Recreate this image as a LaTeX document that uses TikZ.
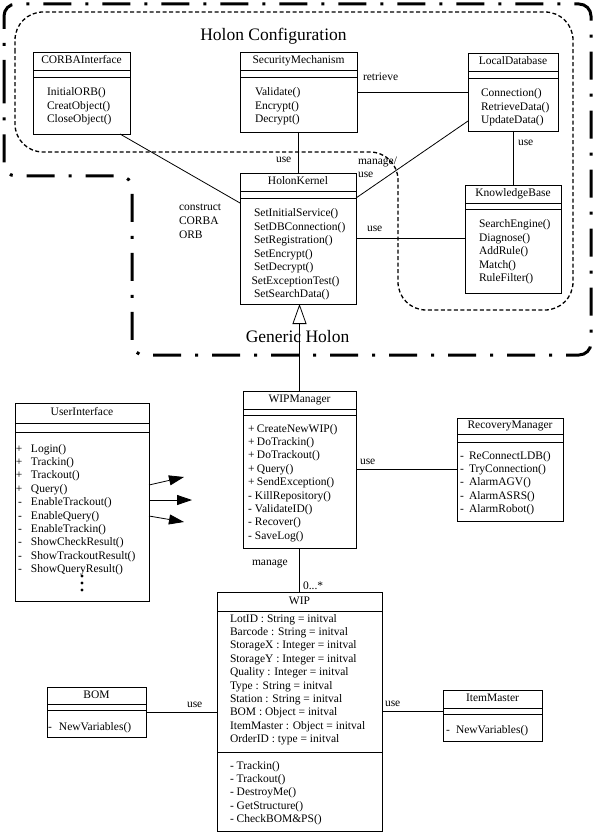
\documentclass[tikz,border=0pt]{standalone}
\usepackage{fontspec}
\setmainfont{Liberation Serif}
\usetikzlibrary{arrows.meta,calc}
\tikzset{
  txt/.style={font=\fontsize{11.5pt}{13.4pt}\selectfont, inner sep=0pt, outer sep=0pt},
  lbl/.style={txt, anchor=base west},
  cname/.style={txt, text height=8pt, text depth=2.4pt, anchor=center},
  cls/.style={draw, line width=0.8pt, inner sep=0pt, outer sep=0pt, anchor=north west},
  con/.style={line width=0.8pt},
  outerb/.style={line width=3pt, dash pattern=on 28pt off 14pt on 3pt off 14pt, rounded corners=12pt},
  innerb/.style={line width=1.3pt, dash pattern=on 4pt off 2.5pt, rounded corners=28pt},
  gen/.style={con, -{Triangle[open, length=20pt, width=14pt, line width=0.8pt]}},
  navarrow/.style={con, -{Triangle[length=15pt, width=10pt]}},
  bigtitle/.style={font=\fontsize{17.5pt}{20pt}\selectfont, inner sep=0pt, anchor=base},
}
\newcommand\umlclass[8]{%
  \node[cls, minimum width={(#4-#2)*1pt}, minimum height={(#5-#3)*1pt}] (#1) at (#2,#3) {};
  \draw[con] (#2,#6) -- (#4,#6);
  \draw[con] (#2,#7) -- (#4,#7);
  \node[cname] (#1-name) at ({(#2+#4)/2},{(#3+#6)/2}) {#8};
}
\newcommand\oplist[4]{%
  \foreach \optext [count=\i] in {#4} {\node[lbl] (#1-\i) at (#2,{#3+(\i-1)*13.4}) {\optext};}%
}
\newcommand\pf[2]{\makebox[#1][l]{#2}}
\begin{document}
\begin{tikzpicture}[x=1pt,y=-1pt]
\useasboundingbox (0,0) rectangle (594,834);

% group boundaries
\draw[outerb] (4,100) -- (4,4) -- (591,4) -- (591,355) -- (132,355) -- (132,176) -- (4,176) -- cycle;
\draw[innerb] (15,80) -- (15,12) -- (573,12) -- (573,310) -- (398,310) -- (398,152) -- (15,152) -- cycle;
\node[bigtitle] (t1) at (273.5,41) {Holon Configuration};
\node[bigtitle] (t2) at (297.5,342) {Generic Holon};

% classes
\umlclass{corba}{33}{52}{130}{134}{70}{77}{CORBAInterface}
\oplist{corbaop}{47}{96}{InitialORB(), CreatObject(), CloseObject()}

\umlclass{sec}{240}{52}{357}{132}{70}{77}{SecurityMechanism}
\oplist{secop}{255}{96}{Validate(), Encrypt(), Decrypt()}

\umlclass{ldb}{468}{53}{558}{131}{71}{78}{LocalDatabase}
\oplist{ldbop}{481}{97}{Connection(), RetrieveData(), UpdateData()}

\umlclass{kb}{465}{185}{561}{293}{203}{209}{KnowledgeBase}
\oplist{kbop}{479}{228}{SearchEngine(), Diagnose(), AddRule(), Match(), RuleFilter()}

\umlclass{hk}{240}{173}{356}{304}{191}{198}{HolonKernel}
\oplist{hkop}{254}{217}{SetInitialService(), SetDBConnection(), SetRegistration(), SetEncrypt(), SetDecrypt(), \hspace*{-2.5pt}SetExceptionTest(), SetSearchData()}

\umlclass{wipm}{243}{391}{356}{548}{409}{415}{WIPManager}
\oplist{wipmop}{248}{432}{\pf{9pt}{+}CreateNewWIP(), \pf{9pt}{+}DoTrackin(), \pf{9pt}{+}DoTrackout(), \pf{9pt}{+}Query(), \pf{9pt}{+}SendException(), \pf{7pt}{-}KillRepository(), \pf{7pt}{-}ValidateID(), \pf{7pt}{-}Recover(), \pf{7pt}{-}SaveLog()}

\umlclass{rec}{457}{418}{563}{521}{434}{442}{RecoveryManager}
\oplist{recop}{460}{459}{\pf{9pt}{-}ReConnectLDB(), \pf{9pt}{-}TryConnection(), \pf{9pt}{-}AlarmAGV(), \pf{9pt}{-}AlarmASRS(), \pf{9pt}{-}AlarmRobot()}

\umlclass{ui}{15}{403}{149}{601}{423}{432}{UserInterface}
\oplist{uiop}{16}{452}{\pf{15pt}{+}Login(), \pf{15pt}{+}Trackin(), \pf{15pt}{+}Trackout(), \pf{15pt}{+}Query(), \pf{15pt}{\hspace*{2pt}-}EnableTrackout(), \pf{15pt}{\hspace*{2pt}-}EnableQuery(), \pf{15pt}{\hspace*{2pt}-}EnableTrackin(), \pf{15pt}{\hspace*{2pt}-}ShowCheckResult(), \pf{15pt}{\hspace*{2pt}-}ShowTrackoutResult(), \pf{15pt}{\hspace*{2pt}-}ShowQueryResult()}
\fill (82,576) circle (1.7pt);
\fill (82,583) circle (1.7pt);
\fill (82,590) circle (1.7pt);

\umlclass{wip}{217}{592}{382}{831}{611}{752}{WIP}
\oplist{wipattr}{230}{622}{LotID : String = initval, Barcode : String = initval, StorageX : Integer = initval, StorageY : Integer = initval, Quality : Integer = initval, Type : String = initval, Station : String = initval, BOM : Object = initval, ItemMaster : Object = initval, OrderID : type = initval}
\oplist{wipop}{230}{769}{- Trackin(), - Trackout(), - DestroyMe(), - GetStructure(), - CheckBOM\&PS()}

\umlclass{bom}{47}{687}{146}{737}{704}{710}{BOM}
\oplist{bomop}{48}{730}{\pf{11pt}{-}NewVariables()}

\umlclass{im}{443}{690}{542}{741}{708}{714}{ItemMaster}
\oplist{imop}{446}{733}{\pf{10pt}{-}NewVariables()}

% connectors
\draw[con] ($(corba.south east)+(-10,0)$) -- ($(hk.north west)+(0,30)$);
\draw[con] (sec.south) -- (sec.south |- hk.north);
\draw[con] (sec.east) -- (ldb.west);
\draw[con] ($(ldb.south west)+(0,-10)$) -- ($(hk.north east)+(0,25)$);
\draw[con] (ldb.south) -- (ldb.south |- kb.north);
\draw[con] (hk.east) -- (hk.east -| kb.west);
\draw[gen] (wipm.north) -- (wipm.north |- hk.south);
\draw[con] (wipm.east) -- (wipm.east -| rec.west);
\draw[con] (wipm.south) -- (wipm.south |- wip.north);
\draw[con] (bom.east) -- (bom.east -| wip.west);
\draw[con] (wip.east) -- (wip.east -| im.west);

\coordinate (a1) at (184,477);
\coordinate (a2) at (192,500);
\coordinate (a3) at (184,522);
\draw[navarrow] ($(ui.north east)+(0,82)$) -- (a1);
\draw[navarrow] ($(ui.north east)+(0,97)$) -- (a2);
\draw[navarrow] ($(ui.north east)+(0,113)$) -- (a3);

% labels
\node[lbl] (l-use1) at (276,163) {use};
\node[lbl] (l-retr) at (363,81) {retrieve};
\node[lbl] (l-man1) at (358,165) {manage/};
\node[lbl] (l-use2) at (358,178) {use};
\node[lbl] (l-cons1) at (179,211) {construct};
\node[lbl] (l-cons2) at (179,225) {CORBA};
\node[lbl] (l-cons3) at (179,238) {ORB};
\node[lbl] (l-use3) at (367,231) {use};
\node[lbl] (l-use4) at (518,146) {use};
\node[lbl] (l-use5) at (360,464) {use};
\node[lbl] (l-man2) at (252,565) {manage};
\node[lbl] (l-mult) at (303,589) {0...*};
\node[lbl] (l-use6) at (187,707) {use};
\node[lbl] (l-use7) at (385,706) {use};
\end{tikzpicture}
\end{document}
